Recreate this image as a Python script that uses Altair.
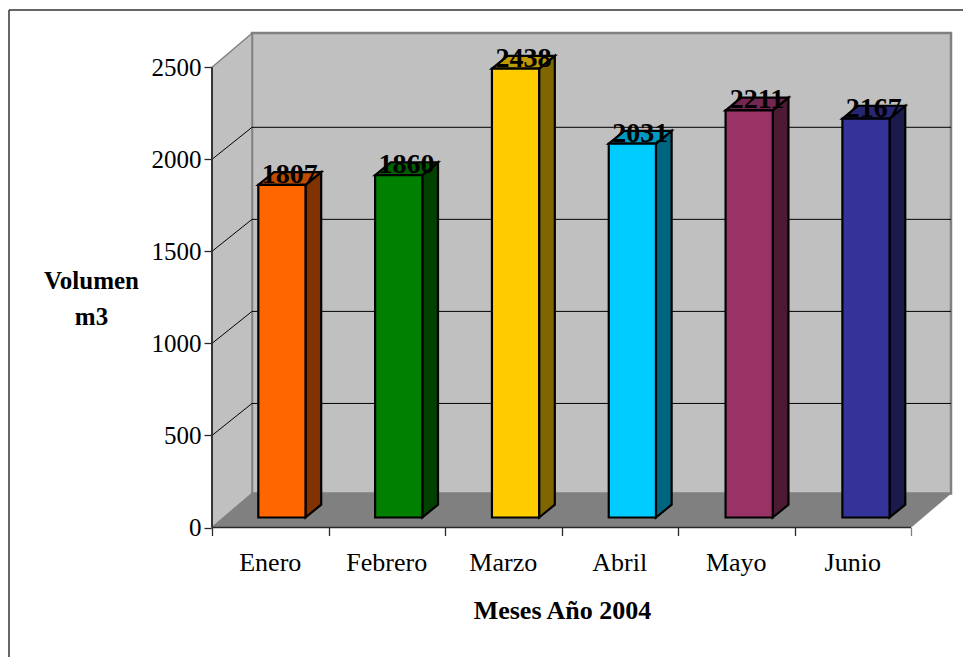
import altair as alt
import pandas as pd

# Monthly volumes
months = ["Enero", "Febrero", "Marzo", "Abril", "Mayo", "Junio"]
volumes = [1807, 1860, 2438, 2031, 2211, 2167]
front_colors = ["#FF6600", "#008000", "#FFCC00", "#00CCFF", "#993366", "#333399"]
side_colors = ["#803300", "#004000", "#806600", "#006680", "#4D1A33", "#1A1A4D"]
top_colors = ["#BF4D00", "#006000", "#BF9900", "#0099BF", "#732650", "#262673"]
y_ticks = [0, 500, 1000, 1500, 2000, 2500]
x_ticks = [0, 1, 2, 3, 4, 5, 6]
grid_values = [500, 1000, 1500, 2000]

# Oblique projection, expressed in data units of each axis
PX_PER_CAT = 116.5
PX_PER_VOL = 0.1841
WIDTH, HEIGHT = 739, 494.5
WALL_DX = 40 / PX_PER_CAT
WALL_DY = 34 / PX_PER_VOL
GRID_DY = 32 / PX_PER_VOL
BAR_DX = 15.7 / PX_PER_CAT
BAR_DY = 12.8 / PX_PER_VOL
BAR_SHIFT = 0.1
BAR_PITCH = 1.0027
BAR_HALF = 0.2025
BAR_BASE = 10 / PX_PER_VOL
X_TOP = WIDTH / PX_PER_CAT
Y_TOP = HEIGHT / PX_PER_VOL

FONT = "Liberation Serif"
GRAY = "#808080"
WALL = "#C0C0C0"
AXIS = "#2A2A2A"

x_scale = alt.Scale(domain=[0, X_TOP], nice=False, zero=False)
y_scale = alt.Scale(domain=[0, Y_TOP], nice=False, zero=False)

# Both axes are declared once and shared by every layer
x_axis = alt.Axis(
    values=x_ticks, labels=False, grid=False, domain=False, tickSize=8, tickWidth=1.3,
    tickColor={"condition": {"test": "datum.value === 6", "value": GRAY}, "value": AXIS},
    title="Meses Año 2004", titleFont=FONT, titleFontSize=26, titleFontWeight="bold",
    titleColor="#000000", titleX=350, titleY=91, titleAlign="center",
    titleBaseline="alphabetic")
y_axis = alt.Axis(
    values=y_ticks, format="d", grid=False, domain=False, tickSize=8, tickWidth=1.3,
    tickColor=AXIS, labelFont=FONT, labelFontSize=25, labelColor="#000000", labelPadding=3,
    title=["Volumen", "m3"], titleFont=FONT, titleFontSize=25, titleFontWeight="bold",
    titleColor="#000000", titleAngle=0, titleX=-121, titleY=255, titleAlign="center",
    titleBaseline="alphabetic", titleLineHeight=36)
X = lambda f: alt.X(f, type="quantitative", scale=x_scale, axis=x_axis)
Y = lambda f: alt.Y(f, type="quantitative", scale=y_scale, axis=y_axis, stack=None)

# Frame of the chart: only its top and left edges fall inside the page
frame_left = alt.Chart().mark_rule(color="#333333", strokeWidth=1.5).encode(
    x=alt.value(-203), y=alt.value(-23), y2=alt.value(624))
frame_top = alt.Chart().mark_rule(color="#333333", strokeWidth=1.5).encode(
    x=alt.value(-203), x2=alt.value(751), y=alt.value(-23))

# Back wall
back_wall = alt.Chart(pd.DataFrame({"x": [WALL_DX], "x2": [X_TOP], "y": [WALL_DY], "y2": [Y_TOP]})).mark_rect(
    fill=WALL, stroke=GRAY, strokeWidth=2.5).encode(x=X("x"), x2="x2", y=Y("y"), y2="y2")

# Side wall, a parallelogram rising towards the back wall
side_wall = alt.Chart(pd.DataFrame({
    "x": [0.0, WALL_DX], "lo": [0.0, WALL_DY], "hi": [2500.0, 2500.0 + WALL_DY],
})).mark_area(orient="vertical", fill=WALL, stroke=GRAY, strokeWidth=1.5).encode(
    x=X("x"), y=Y("lo"), y2="hi")

# Floor
floor = alt.Chart(pd.DataFrame({
    "y": [0.0, WALL_DY], "x": [0.0, WALL_DX], "x2": [6.0, 6.0 + WALL_DX],
})).mark_area(orient="horizontal", fill=GRAY, stroke=GRAY, strokeWidth=0.5).encode(
    y=Y("y"), x=X("x"), x2="x2")

# Gridlines on the back wall and their continuation down the side wall
back_grid = alt.Chart(pd.DataFrame({
    "x": [WALL_DX] * 4, "x2": [X_TOP] * 4, "y": [v + GRID_DY for v in grid_values],
})).mark_rule(color="#000000", strokeWidth=1).encode(x=X("x"), x2="x2", y=Y("y"))
side_grid = alt.Chart(pd.DataFrame({
    "x": [0.0] * 4, "x2": [WALL_DX] * 4, "y": grid_values, "y2": [v + GRID_DY for v in grid_values],
})).mark_rule(color="#000000", strokeWidth=1).encode(x=X("x"), x2="x2", y=Y("y"), y2="y2")

# Axis lines
y_line = alt.Chart(pd.DataFrame({"x": [0.0], "y": [0.0], "y2": [2500.0]})).mark_rule(
    color=AXIS, strokeWidth=1.8).encode(x=X("x"), y=Y("y"), y2="y2")
x_line = alt.Chart(pd.DataFrame({"x": [0.0], "x2": [6.0], "y": [0.0]})).mark_rule(
    color=AXIS, strokeWidth=1.6).encode(x=X("x"), x2="x2", y=Y("y"))

# Bar geometry from the monthly values
bars = pd.DataFrame({"month": months, "vol": volumes, "front": front_colors,
                     "side": side_colors, "top": top_colors})
bars["center"] = [0.5 + BAR_SHIFT + i * BAR_PITCH for i in range(len(months))]
bars["left"] = bars["center"] - BAR_HALF
bars["right"] = bars["center"] + BAR_HALF
bars["base"] = BAR_BASE
bars["head"] = bars["vol"] + BAR_BASE

side_rows, top_rows = [], []
for r in bars.itertuples():
    side_rows += [
        {"month": r.month, "fill": r.side, "x": r.right, "lo": r.base, "hi": r.head},
        {"month": r.month, "fill": r.side, "x": r.right + BAR_DX, "lo": r.base + BAR_DY, "hi": r.head + BAR_DY},
    ]
    top_rows += [
        {"month": r.month, "fill": r.top, "y": r.head, "x": r.left, "x2": r.right},
        {"month": r.month, "fill": r.top, "y": r.head + BAR_DY, "x": r.left + BAR_DX, "x2": r.right + BAR_DX},
    ]

bar_side = alt.Chart(pd.DataFrame(side_rows)).mark_area(
    orient="vertical", stroke="#000000", strokeWidth=2.2).encode(
    x=X("x"), y=Y("lo"), y2="hi", fill=alt.Fill("fill:N", scale=None), detail="month:N")
bar_top = alt.Chart(pd.DataFrame(top_rows)).mark_area(
    orient="horizontal", stroke="#000000", strokeWidth=2.2).encode(
    y=Y("y"), x=X("x"), x2="x2", fill=alt.Fill("fill:N", scale=None), detail="month:N")
bar_front = alt.Chart(bars).mark_rect(stroke="#000000", strokeWidth=2.2).encode(
    x=X("left"), x2="right", y=Y("base"), y2="head", fill=alt.Fill("front:N", scale=None))

# Value labels, sitting over the top face of each bar
bars["label_x"] = bars["center"] + BAR_DX / 2
value_labels = alt.Chart(bars).mark_text(
    font=FONT, fontSize=28, fontWeight="bold", color="#000000", baseline="alphabetic", dy=-2).encode(
    x=X("label_x"), y=Y("head"), text=alt.Text("vol:Q", format="d"))

# Month names under the axis
month_df = pd.DataFrame({"month": months, "x": [i + 0.5 for i in range(len(months))], "y": [0.0] * len(months)})
month_labels = alt.Chart(month_df).mark_text(
    font=FONT, fontSize=26, color="#000000", baseline="alphabetic", dy=43).encode(
    x=X("x"), y=Y("y"), text="month:N")

chart = alt.layer(
    back_wall, side_wall, floor, back_grid, side_grid, y_line, x_line,
    bar_side, bar_top, bar_front, value_labels, month_labels, frame_left, frame_top,
).resolve_scale(x="shared", y="shared").properties(
    width=WIDTH, height=HEIGHT,
    padding={"left": 212, "top": 33, "right": 12, "bottom": 129},
    autosize=alt.AutoSizeParams(type="none"),
    background="#FFFFFF",
).configure_view(stroke=None)

chart.save("out.html", embed_options={"renderer": "svg", "actions": False})
